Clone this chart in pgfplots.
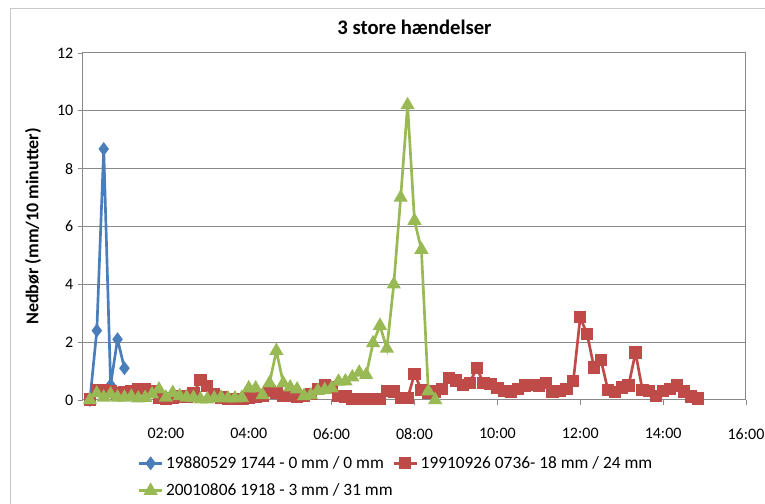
\documentclass[border=0pt]{standalone}
\usepackage{fontspec}
\setmainfont{Carlito}
\usepackage{pgfplots}
\usepackage{pgfplotstable}
\pgfplotsset{compat=1.18}
\definecolor{xblue}{HTML}{4A7EBB}
\definecolor{xred}{HTML}{BE4B48}
\definecolor{xgreen}{HTML}{98B954}
\definecolor{xgrid}{HTML}{898989}
\definecolor{xframe}{HTML}{C8C8C8}

\pgfplotstableread{
t v
10 0.0
20 2.4
30 8.68
40 0.52
50 2.1
60 1.1
}\blueT

\pgfplotstableread{
t v
10 0.02
20 0.35
30 0.35
40 0.32
50 0.23
60 0.27
70 0.32
80 0.38
90 0.38
100 0.32
110 0.09
120 0.05
130 0.08
140 0.12
150 0.12
160 0.23
170 0.69
180 0.49
190 0.20
200 0.09
210 0.03
220 0.03
230 0.03
240 0.06
250 0.10
260 0.14
270 0.30
280 0.23
290 0.14
300 0.14
310 0.12
320 0.14
330 0.20
340 0.37
350 0.52
360 0.44
370 0.14
380 0.12
390 0.03
400 0.03
410 0.03
420 0.03
430 0.03
440 0.31
450 0.29
460 0.06
470 0.06
480 0.90
490 0.35
500 0.23
510 0.29
520 0.37
530 0.75
540 0.67
550 0.52
560 0.60
570 1.10
580 0.60
590 0.56
600 0.41
610 0.32
620 0.29
630 0.37
640 0.50
650 0.51
660 0.50
670 0.58
680 0.29
690 0.32
700 0.37
710 0.66
720 2.86
730 2.27
740 1.12
750 1.39
760 0.35
770 0.27
780 0.43
790 0.50
800 1.64
810 0.35
820 0.31
830 0.14
840 0.31
850 0.37
860 0.50
870 0.29
880 0.12
890 0.05
}\redT

\pgfplotstableread{
t v
10 0.0
20 0.23
30 0.09
40 0.20
50 0.09
60 0.09
70 0.12
80 0.06
90 0.08
100 0.20
110 0.37
120 0.09
130 0.25
140 0.14
150 0.09
160 0.08
170 0.03
180 0.03
190 0.06
200 0.09
210 0.06
220 0.06
230 0.08
240 0.41
250 0.41
260 0.17
270 0.58
280 1.70
290 0.58
300 0.44
310 0.37
320 0.14
330 0.17
340 0.32
350 0.35
360 0.41
370 0.64
380 0.65
390 0.79
400 0.95
410 0.87
420 1.97
430 2.57
440 1.78
450 4.00
460 7.00
470 10.20
480 6.20
490 5.20
500 0.30
510 0.00
}\greenT

\begin{document}
\begin{tikzpicture}
\useasboundingbox (0,0) rectangle (573.75pt,378pt);
\draw[xframe, line width=0.75pt] (7.5pt,0) -- (7.5pt,371.25pt) -- (573.75pt,371.25pt);
\begin{axis}[
  at={(62.25pt,78pt)}, anchor=south west,
  scale only axis, width=497.25pt, height=260.25pt,
  xmin=0, xmax=960, ymin=0, ymax=12,
  xtick={120,240,...,960},
  xticklabels={02:00,04:00,06:00,08:00,10:00,12:00,14:00,16:00},
  ytick={0,2,...,12},
  tick pos=left, tick align=outside,
  major tick length=3.75pt,
  tick style={xgrid, line width=0.6pt},
  axis line style={xgrid, line width=0.75pt},
  ymajorgrids, grid style={xgrid, line width=0.75pt},
  /pgf/number format/assume math mode=true,
  tick label style={font=\fontsize{12}{14}\selectfont},
  xticklabel style={yshift=-14pt},
  title={\textbf{3 store hændelser}},
  title style={at={(axis description cs:0.5,1)}, anchor=center, yshift=13.5pt, font=\fontsize{15.5}{18}\selectfont},
  ylabel={\textbf{Nedbør (mm/10 minutter)}},
  ylabel style={at={([xshift=-37.5pt]axis description cs:0,0.5)}, anchor=center, rotate=0, font=\fontsize{13.5}{15}\selectfont},
  legend columns=2,
  legend style={draw=none, fill=none, at={([xshift=38pt,yshift=-38pt]axis description cs:0,0)}, anchor=north west, font=\fontsize{13}{15}\selectfont, row sep=6pt, /tikz/every even column/.append style={column sep=-2pt}},
  legend cell align=left,
]
\addplot[xblue, line width=2pt, mark=diamond*, mark size=3.6pt, mark options={solid}] table[x=t,y=v] {\blueT};
\addlegendentry{19880529 1744 - 0 mm / 0 mm}
\addplot[xred, line width=2pt, mark=square*, mark size=3.6pt, mark options={solid}] table[x=t,y=v] {\redT};
\addlegendentry{19910926 0736- 18 mm / 24 mm}
\addplot[xgreen, line width=2pt, mark=triangle*, mark size=4.2pt, mark options={solid}] table[x=t,y=v] {\greenT};
\addlegendentry{20010806 1918 - 3 mm / 31 mm}
\end{axis}
\end{tikzpicture}
\end{document}
